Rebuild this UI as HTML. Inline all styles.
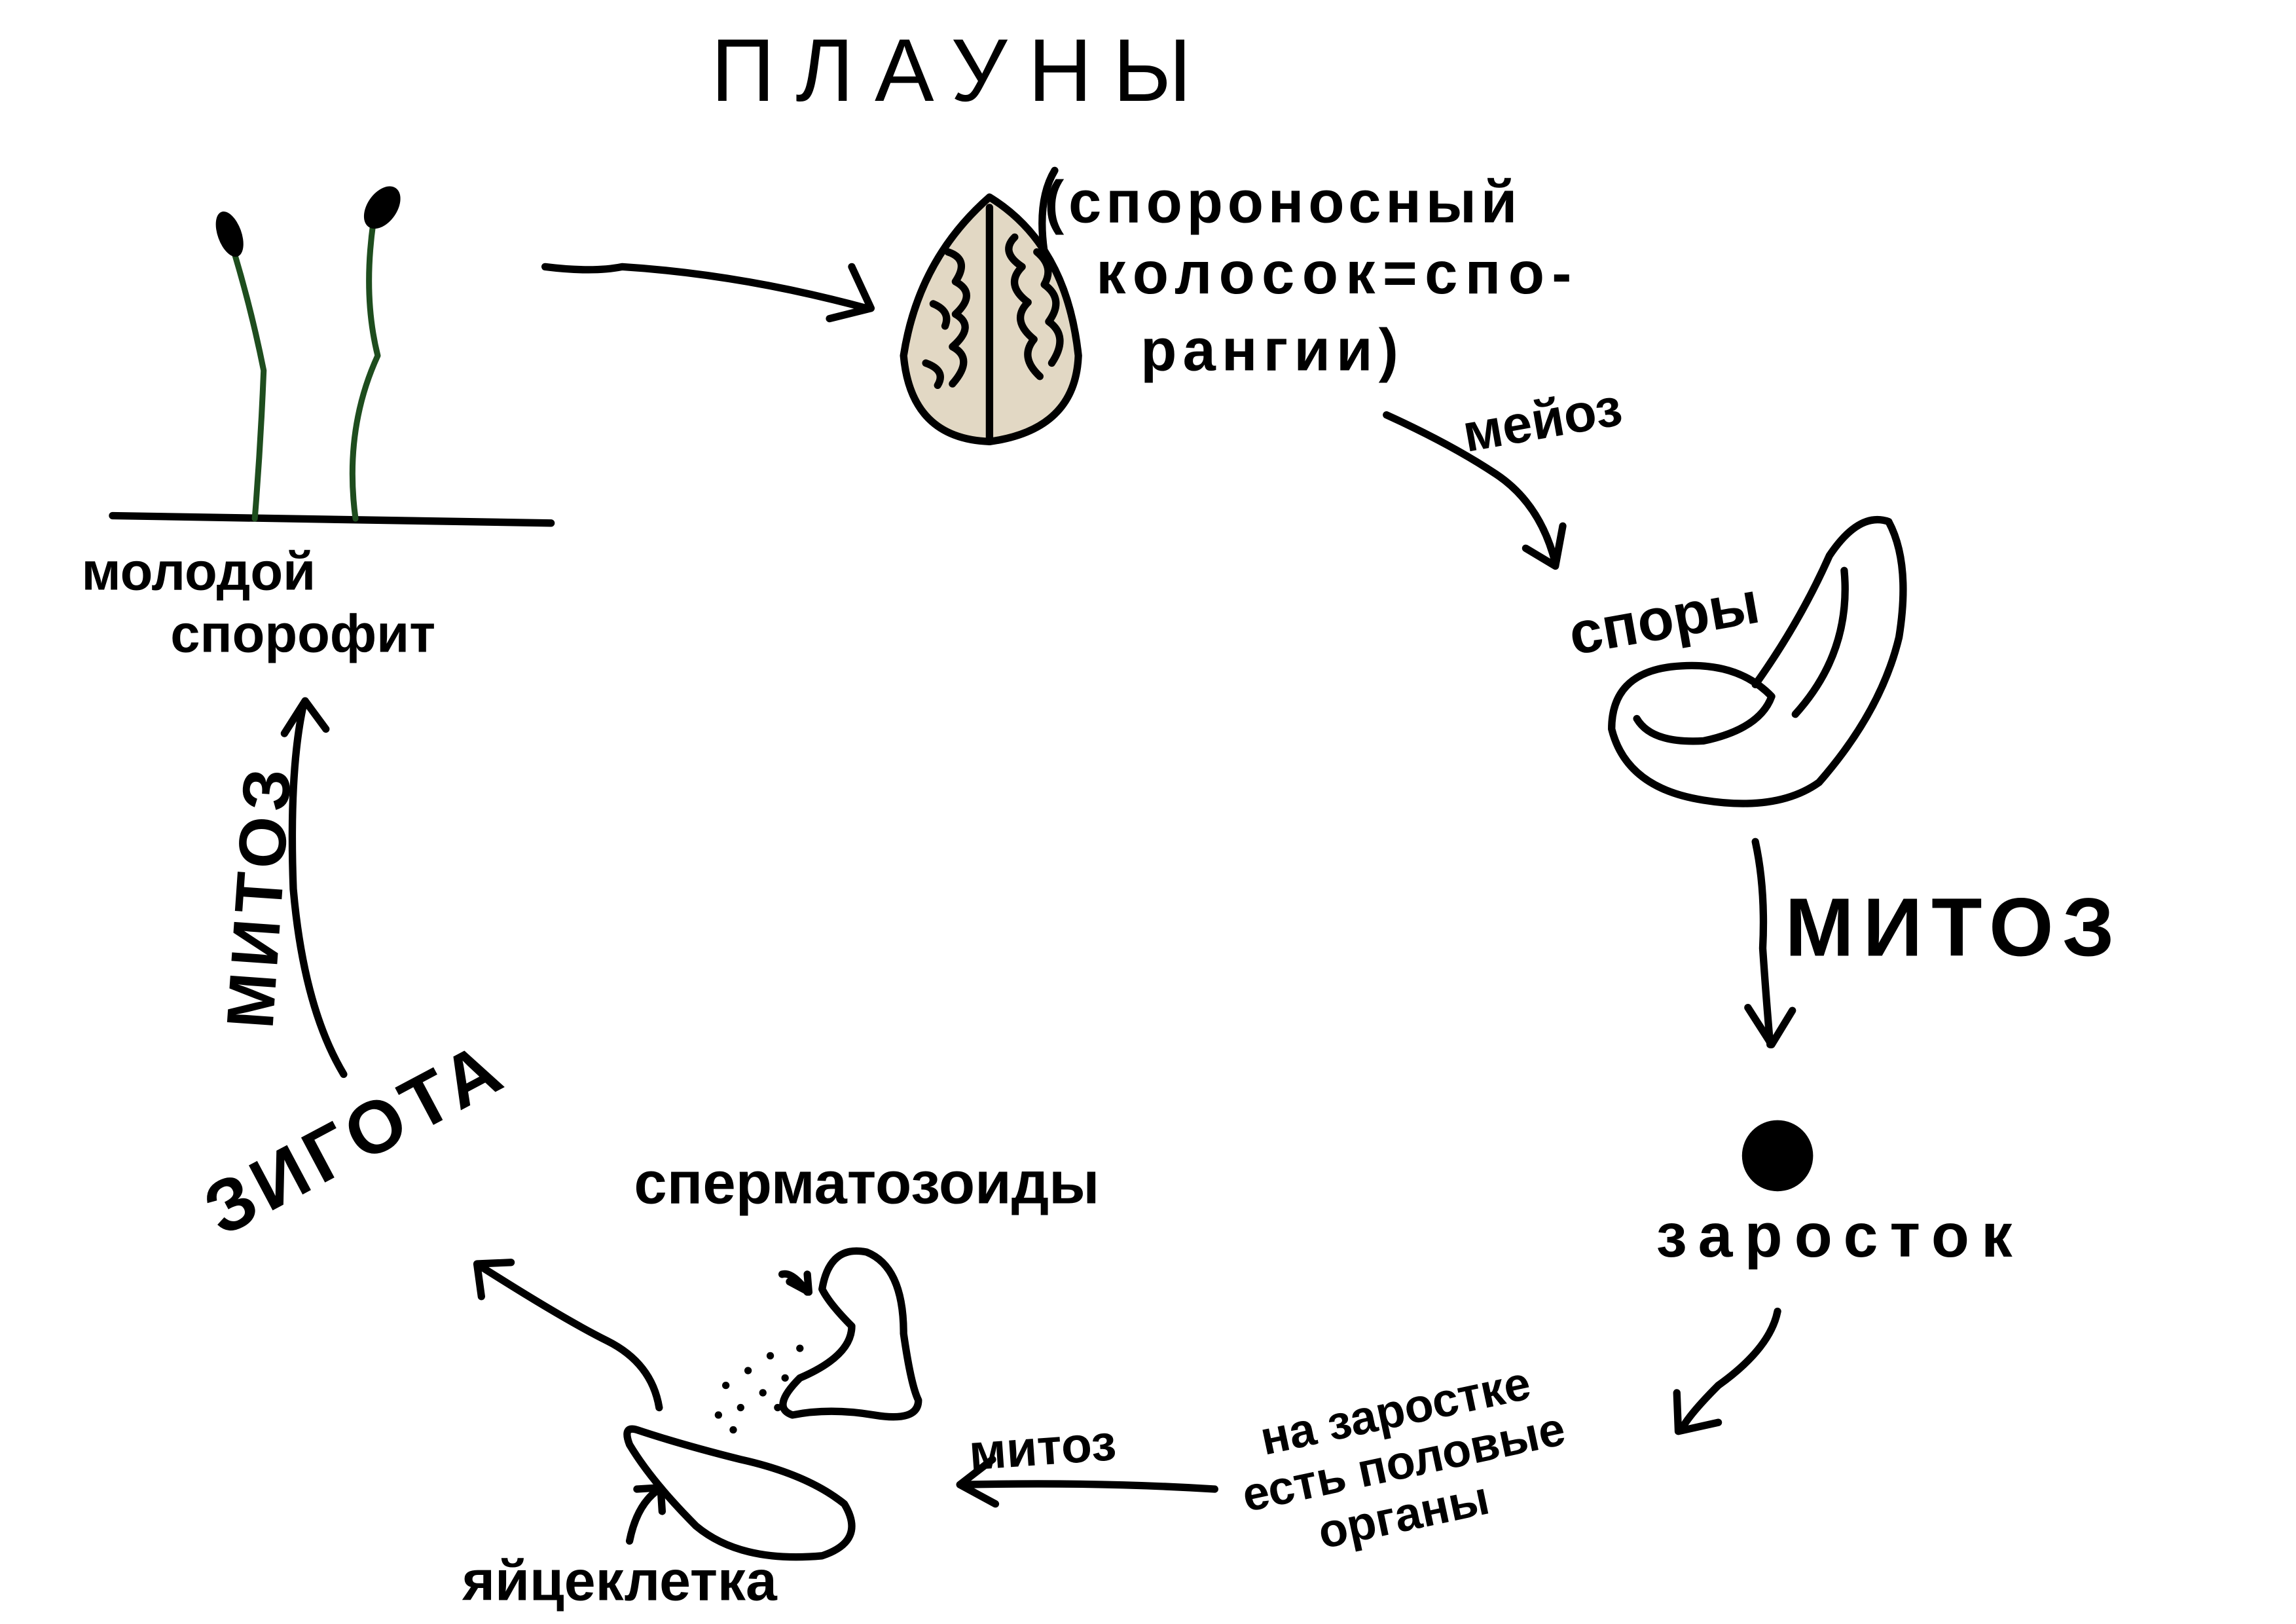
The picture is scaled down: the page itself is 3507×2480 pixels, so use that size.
<!DOCTYPE html>
<html><head><meta charset="utf-8"><style>
html,body{margin:0;padding:0;background:#fff;}
svg{display:block;}
text{font-family:"Liberation Sans","DejaVu Sans",sans-serif;fill:#000;}
</style></head><body>
<svg width="3507" height="2480" viewBox="0 0 1550 1096" xmlns="http://www.w3.org/2000/svg">
<g fill="none" stroke="#000" stroke-width="5" stroke-linecap="round" stroke-linejoin="round">
<path d="M76 348 Q220 350 372 353"/>
<path d="M158 170 Q170 210 178 250 Q176 300 172 350" stroke="#1e4d1e" stroke-width="4"/>
<path d="M252 150 Q245 200 255 240 Q232 290 240 350" stroke="#1e4d1e" stroke-width="4"/>
<path d="M368 180 Q400 184 420 180 Q500 185 585 208"/>
<path d="M575 180 L588 208 L560 215"/>
<path d="M668 133 Q720 165 728 240 Q726 290 668 298 Q615 296 610 240 Q620 175 668 133Z" fill="#e2d8c4"/>
<path d="M668 140 L668 298"/>
<path d="M640 170 q15 5 5 20 q15 8 0 22 q14 8 -2 22 q15 8 0 25 M685 160 q-10 10 5 20 q-12 12 4 24 q-12 12 4 25 q-10 12 4 25 M700 170 q12 10 5 22 q14 10 3 25 q14 10 2 28 M630 205 q12 5 8 15 M625 245 q14 5 8 15"/>
<path d="M712 115 Q700 135 705 170"/>
<path d="M936 280 Q980 300 1010 320 Q1040 340 1050 380"/>
<path d="M1030 370 L1050 382 L1055 355"/>
<path d="M1185 462 Q1215 420 1235 375 Q1255 345 1275 352 Q1290 380 1282 430 Q1270 480 1228 528 Q1200 548 1150 540 Q1098 532 1088 492 Q1088 455 1128 450 Q1172 445 1196 470 Q1188 492 1150 500 Q1115 502 1105 485"/>
<path d="M1245 385 Q1250 440 1212 482"/>
<path d="M1185 568 Q1192 600 1190 640 Q1192 670 1195 705"/>
<path d="M1180 680 L1196 705 L1210 682"/>
<path d="M1200 885 Q1195 910 1160 935 Q1140 955 1135 965"/>
<path d="M1132 940 L1133 966 L1160 960"/>
<path d="M820 1005 Q740 1000 650 1002"/>
<path d="M670 985 L648 1002 L672 1015"/>
<path d="M555 870 Q560 840 585 845 Q610 855 610 900 Q615 935 620 945 Q620 960 590 955 Q560 950 535 955 Q520 950 540 930 Q575 915 575 895 Q560 880 555 870Z"/>
<path d="M528 860 Q535 858 545 872"/>
<path d="M545 860 L546 872 L533 865"/>
<path d="M430 965 Q460 975 500 985 Q545 995 570 1015 Q585 1040 555 1050 Q500 1055 470 1030 Q440 1000 425 975 Q420 962 430 965Z"/>
<path d="M425 1040 Q430 1015 445 1005"/>
<path d="M430 1005 L446 1004 L447 1020"/>
<path d="M445 950 Q440 920 410 905 Q380 890 325 855"/>
<path d="M325 875 L322 853 L345 852"/>
<path d="M232 725 Q205 680 198 600 Q195 520 205 475"/>
<path d="M192 495 L206 473 L220 492"/>
</g>
<ellipse cx="155" cy="158" rx="8" ry="16" fill="#000" transform="rotate(-20 155 158)"/>
<ellipse cx="258" cy="140" rx="10" ry="16" fill="#000" transform="rotate(35 258 140)"/>
<g fill="#000">
<circle cx="1200" cy="780" r="24"/>
<circle cx="490" cy="935" r="2.5"/><circle cx="505" cy="925" r="2.5"/><circle cx="520" cy="915" r="2.5"/><circle cx="500" cy="950" r="2.5"/><circle cx="515" cy="940" r="2.5"/><circle cx="485" cy="955" r="2.5"/><circle cx="530" cy="930" r="2.5"/><circle cx="495" cy="965" r="2.5"/><circle cx="540" cy="910" r="2.5"/><circle cx="525" cy="950" r="2.5"/>
</g>
<text x="480" y="68" font-size="60" letter-spacing="14" font-weight="300">ПЛАУНЫ</text>
<text x="705" y="150" font-size="40" font-weight="bold" letter-spacing="3">(спороносный</text>
<text x="740" y="198" font-size="40" font-weight="bold" letter-spacing="5">колосок=спо-</text>
<text x="770" y="250" font-size="40" font-weight="bold" letter-spacing="4">рангии)</text>
<text x="990" y="305" font-size="36" font-weight="bold" transform="rotate(-10 990 305)">мейоз</text>
<text x="1062" y="442" font-size="40" font-weight="bold" transform="rotate(-10 1062 442)">споры</text>
<text x="1205" y="645" font-size="56" font-weight="bold" letter-spacing="6">МИТОЗ</text>
<text x="1118" y="848" font-size="42" font-weight="bold" letter-spacing="8">заросток</text>
<g transform="rotate(-12 840 990)" font-size="32" font-weight="bold">
<text x="855" y="985">на заростке</text>
<text x="835" y="1020">есть половые</text>
<text x="880" y="1055">органы</text>
</g>
<text x="655" y="992" font-size="34" font-weight="bold" transform="rotate(-4 655 992)">митоз</text>
<text x="428" y="812" font-size="40" font-weight="bold">сперматозоиды</text>
<text x="312" y="1080" font-size="38" font-weight="bold">яйцеклетка</text>
<text x="150" y="835" font-size="50" font-weight="bold" letter-spacing="4" transform="rotate(-28 150 835)">ЗИГОТА</text>
<text x="184" y="695" font-size="45" font-weight="bold" letter-spacing="4" transform="rotate(-86 184 695)">МИТОЗ</text>
<text x="55" y="398" font-size="36" font-weight="bold">молодой</text>
<text x="115" y="440" font-size="36" font-weight="bold">спорофит</text>
</svg>
</body></html>
